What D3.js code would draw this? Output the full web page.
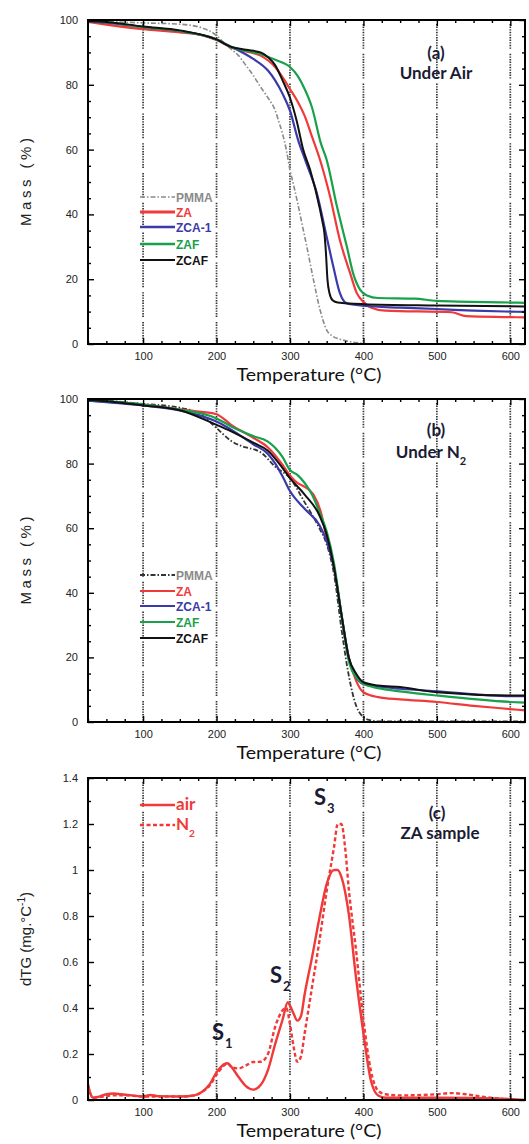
<!DOCTYPE html>
<html><head><meta charset="utf-8">
<script src="https://cdn.jsdelivr.net/npm/d3@7"></script>
<style>body{margin:0;background:#fff}svg{display:block}</style>
</head><body><svg id="chart" width="529" height="1144"></svg>
<script>
// ---------- data ----------
const xTicks = [100, 200, 300, 400, 500, 600];
const massTicks = [0, 20, 40, 60, 80, 100];
const dtgTicks = [0, 0.2, 0.4, 0.6, 0.8, 1, 1.2, 1.4];
const dtgTickLabels = ["0", "0.2", "0.4", "0.6", "0.8", "1", "1.2", "1.4"];
const seriesNames = ["PMMA", "ZA", "ZCA-1", "ZAF", "ZCAF"];

// (a) under air : [temperature, mass %]
const air_PMMA = [[25,100],[50,99.6],[100,99.1],[150,98.7],[180,97.6],[200,95.2],[210,93],[220,91],[230,89],[240,86],[250,82.9],[260,79.3],[270,76],[280,72],[285,68.5],[290,64.8],[295,60],[300,53.7],[305,49],[310,44],[316,37.5],[323,30],[332,19.8],[341,10.5],[350,4.3],[358,2.4],[368,1.5],[382,0.7],[395,0.3],[410,0]];
const air_ZA = [[25,99.4],[50,98.6],[100,97.2],[150,96.2],[180,95.3],[200,93.8],[220,91.5],[240,90.3],[260,89],[280,85.4],[290,82.3],[300,78.7],[310,75],[320,70.4],[330,64],[341,56.8],[354.6,45.5],[368,32],[382,21.8],[391,15.7],[400,13],[410,11.3],[430,10.3],[520,9.8],[540,8.6],[600,8.3],[620,8.2]];
const air_ZCA1 = [[25,99.6],[50,99.2],[100,97.8],[150,96.6],[200,94],[220,91.7],[230,90.6],[250,88],[270,84.4],[280,81.3],[290,77.2],[300,72],[311,63],[320.7,56.8],[336.6,46.5],[350,33],[359,23.9],[368,15.7],[377,12.6],[400,11.8],[450,11.2],[500,10.8],[550,10.3],[600,10],[620,9.9]];
const air_ZAF = [[25,99.7],[50,99.3],[100,97.8],[150,96.6],[200,94],[220,91.7],[240,90.5],[260,89.5],[280,87.7],[300,85.5],[310,82.9],[320,78.7],[330,73],[342,62],[350,56.8],[364,42.4],[377.5,30],[386,21.8],[395.6,16.7],[405,15],[420,14.2],[470,14],[500,13.3],[600,12.8],[620,12.7]];
const air_ZCAF = [[25,99.7],[50,99.4],[100,98],[150,96.8],[200,94],[220,91.7],[240,90.8],[260,90],[270,88.5],[280,86],[290,81.3],[300,76],[309,69],[318,60],[327.5,53.7],[341,41.4],[344,38],[347,34],[349,28],[351,20],[354,15.5],[358,13.5],[365,12.8],[400,12.3],[500,11.9],[620,11.6]];

// (b) under N2 : [temperature, mass %]
const n2_PMMA = [[25,100],[50,99.5],[100,98.5],[150,97.3],[180,95],[200,91],[220,87],[240,85],[250,84.5],[260,83.5],[280,79],[300,75.5],[320,68],[340,60],[350,55],[360,45.7],[370,29],[378,17],[388,6.5],[400,1.5],[410,0.5],[420,0.2],[620,0.2]];
const n2_ZA = [[25,99.5],[50,99.2],[100,98.3],[150,96.8],[180,96],[200,95.3],[220,92],[250,88],[270,85],[290,79.6],[300,76.3],[310,74],[320,72.8],[332,70.4],[342,65],[350,57],[360,47.8],[370,33.4],[380,20],[390,12.8],[400,9.2],[420,7.7],[450,7],[500,6.2],[550,5],[600,4],[620,3.6]];
const n2_ZCA1 = [[25,99.5],[50,99],[100,98],[150,96.5],[200,93],[250,86],[270,83],[280,80],[290,76],[300,71.5],[320,66],[340,61],[350,56],[360,47.8],[370,33.4],[380,20],[390,13.9],[400,11.8],[420,11],[450,10.3],[500,9.5],[600,8],[620,8]];
const n2_ZAF = [[25,99.7],[50,99.3],[100,98.3],[150,96.7],[200,94],[220,91.5],[250,88.5],[270,86.8],[290,82],[300,78],[310,76.5],[320,74],[330,70.4],[340,65],[350,59],[360,49],[370,33.4],[380,19],[390,13.9],[400,11.8],[420,10.5],[450,9.5],[500,8.2],[600,6.2],[620,6]];
const n2_ZCAF = [[25,99.7],[50,99.3],[100,98],[150,96.5],[200,92],[220,90],[250,86.5],[270,84],[290,78.6],[300,75.5],[320,70.4],[340,64],[350,58],[360,47.8],[370,33.4],[380,20],[390,15],[400,12.3],[420,11.3],[450,10.8],[500,9.2],[600,8.2],[620,8.2]];

// (c) ZA sample dTG : [temperature, mg/°C]
const dtg_air = [[25,0.07],[28,0.03],[32,0.01],[40,0.015],[50,0.025],[60,0.028],[70,0.025],[85,0.02],[100,0.015],[110,0.022],[120,0.017],[150,0.015],[170,0.02],[180,0.035],[190,0.065],[200,0.12],[210,0.155],[215,0.16],[220,0.145],[230,0.1],[240,0.06],[250,0.045],[260,0.065],[270,0.13],[280,0.245],[290,0.35],[297,0.425],[300,0.41],[305,0.375],[310,0.345],[315,0.365],[320,0.46],[330,0.62],[340,0.79],[350,0.94],[360,1.0],[365,1.0],[370,0.97],[380,0.81],[390,0.53],[400,0.29],[410,0.087],[420,0.02],[430,0.01],[500,0.01],[600,0.005],[620,0]];
const dtg_N2 = [[25,0.06],[28,0.03],[32,0.01],[40,0.012],[60,0.02],[80,0.02],[100,0.015],[120,0.015],[150,0.015],[170,0.02],[180,0.035],[190,0.06],[200,0.11],[210,0.15],[215,0.16],[220,0.145],[230,0.137],[240,0.15],[250,0.165],[260,0.166],[270,0.2],[280,0.32],[290,0.39],[295,0.4],[300,0.33],[305,0.23],[310,0.166],[315,0.19],[320,0.29],[330,0.49],[340,0.69],[350,0.91],[360,1.1],[365,1.2],[370,1.2],[375,1.1],[380,0.92],[390,0.65],[400,0.35],[410,0.13],[420,0.04],[430,0.025],[450,0.02],[500,0.025],[520,0.03],[540,0.025],[560,0.015],[590,0.005]];

// ---------- drawing ----------
const svg = d3.select("#chart");
const X0 = 88, X1 = 525;
const x = d3.scaleLinear().domain([25, 620]).range([X0, X1]);
const RED = "#f03a3a", BLUE = "#3a3aa8", GREEN = "#18a04a", BLACK = "#111", GRAY = "#8a8a8a";
const tickFont = "'Liberation Sans', Arial, sans-serif";
const annFont = "Lato, 'Open Sans', sans-serif";
const gridDash = d3.range(9).map(() => "1.4,1.2").join(",") + ",1.4,5";

function panel(cfg) {
  const y = d3.scaleLinear().domain(cfg.yDomain).range([cfg.bottom, cfg.top]);
  const g = svg.append("g");
  const clipId = "clip" + cfg.id;
  svg.append("clipPath").attr("id", clipId).append("rect")
    .attr("x", X0).attr("y", cfg.top).attr("width", X1 - X0).attr("height", cfg.bottom - cfg.top);

  // grid
  g.selectAll(".grid").data(xTicks).join("line")
    .attr("x1", d => x(d)).attr("x2", d => x(d))
    .attr("y1", cfg.top + 4).attr("y2", cfg.bottom)
    .attr("stroke", "#333").attr("stroke-width", 1.7).attr("stroke-dasharray", gridDash);

  // curves
  const line = d3.line().x(d => x(d[0])).y(d => y(d[1])).curve(d3.curveMonotoneX);
  const cg = g.append("g").attr("clip-path", `url(#${clipId})`);
  cfg.series.forEach(s => {
    cg.append("path").datum(s.data).attr("d", line)
      .attr("fill", "none").attr("stroke", s.color).attr("stroke-width", s.width || 2)
      .attr("stroke-dasharray", s.dash || null).attr("stroke-linejoin", "round");
  });

  // axes
  const styleAxis = sel => { sel.select(".domain").remove(); sel.selectAll("line").attr("stroke", "#000").attr("stroke-width", 1.4); };
  const minorX = d3.range(25, 621, 25).filter(v => !xTicks.includes(v));
  const minorY = d3.range(cfg.yDomain[0], cfg.yDomain[1] + 1e-9, cfg.yMinor).map(v => +v.toFixed(3)).filter(v => !cfg.yTicks.some(t => Math.abs(t - v) < 1e-6));

  g.append("g").attr("transform", `translate(0,${cfg.bottom})`)
    .call(d3.axisBottom(x).tickValues(xTicks).tickSizeInner(-6).tickSizeOuter(0).tickPadding(8))
    .call(styleAxis)
    .call(s => s.selectAll("text").attr("font-family", tickFont).attr("font-size", 11).attr("fill", "#222"));
  g.append("g").attr("transform", `translate(0,${cfg.bottom})`)
    .call(d3.axisBottom(x).tickValues(minorX).tickSizeInner(-3).tickSizeOuter(0).tickFormat(""))
    .call(styleAxis);
  g.append("g").attr("transform", `translate(0,${cfg.top})`)
    .call(d3.axisTop(x).tickValues(xTicks).tickSizeInner(-6).tickSizeOuter(0).tickFormat(""))
    .call(styleAxis);
  g.append("g").attr("transform", `translate(0,${cfg.top})`)
    .call(d3.axisTop(x).tickValues(minorX).tickSizeInner(-3).tickSizeOuter(0).tickFormat(""))
    .call(styleAxis);
  g.append("g").attr("transform", `translate(${X0},0)`)
    .call(d3.axisLeft(y).tickValues(cfg.yTicks).tickSizeInner(-6).tickSizeOuter(0).tickPadding(10)
      .tickFormat((d, i) => cfg.yLabels[i]))
    .call(styleAxis)
    .call(s => s.selectAll("text").attr("font-family", tickFont).attr("font-size", 11).attr("fill", "#222"));
  g.append("g").attr("transform", `translate(${X0},0)`)
    .call(d3.axisLeft(y).tickValues(minorY).tickSizeInner(-3).tickSizeOuter(0).tickFormat(""))
    .call(styleAxis);
  g.append("g").attr("transform", `translate(${X1},0)`)
    .call(d3.axisRight(y).tickValues(cfg.yTicks).tickSizeInner(-6).tickSizeOuter(0).tickFormat(""))
    .call(styleAxis);
  g.append("g").attr("transform", `translate(${X1},0)`)
    .call(d3.axisRight(y).tickValues(minorY).tickSizeInner(-3).tickSizeOuter(0).tickFormat(""))
    .call(styleAxis);

  // frame
  g.append("rect").attr("x", X0).attr("y", cfg.top).attr("width", X1 - X0).attr("height", cfg.bottom - cfg.top)
    .attr("fill", "none").attr("stroke", "#000").attr("stroke-width", 2);

  // x title
  g.append("text").attr("x", 309).attr("y", cfg.bottom + 37).attr("text-anchor", "middle")
    .attr("font-family", annFont).attr("font-size", 17).attr("fill", "#111")
    .attr("textLength", 145).attr("lengthAdjust", "spacingAndGlyphs")
    .text("Temperature (°C)");

  // y title
  const yt = g.append("text").attr("transform", `translate(31,${(cfg.top + cfg.bottom) / 2}) rotate(-90)`)
    .attr("text-anchor", "middle").attr("font-family", tickFont).attr("font-size", 15).attr("fill", "#222");
  cfg.yTitle(yt);

  // legend
  if (cfg.legend) {
    cfg.legend.forEach(l => {
      g.append("line").attr("x1", 140).attr("x2", 175).attr("y1", l.y).attr("y2", l.y)
        .attr("stroke", l.color).attr("stroke-width", l.width || 2).attr("stroke-dasharray", l.dash || null);
      const t = g.append("text").attr("x", 176).attr("y", l.y + 4.5)
        .attr("font-family", l.font || tickFont).attr("font-weight", "bold").attr("font-size", l.size || 12)
        .attr("fill", l.textColor || l.color);
      t.text(l.label);
      if (l.sub) t.append("tspan").attr("font-size", 10).attr("dy", 7).text(l.sub);
    });
  }
  return { g, y };
}

// panel (a)
const pa = panel({
  id: "a", top: 20, bottom: 344, yDomain: [0, 100], yTicks: massTicks, yLabels: massTicks.map(String), yMinor: 5,
  series: [
    { data: air_PMMA, color: GRAY, width: 1.6, dash: "5,2,1.5,2" },
    { data: air_ZA, color: RED, width: 2.2 },
    { data: air_ZCA1, color: BLUE, width: 2.2 },
    { data: air_ZAF, color: GREEN, width: 2.2 },
    { data: air_ZCAF, color: BLACK, width: 2 }
  ],
  legend: [
    { y: 197, color: GRAY, label: seriesNames[0], dash: "5,2,1.5,2", width: 1.6 },
    { y: 212, color: RED, label: seriesNames[1], width: 3 },
    { y: 227, color: BLUE, label: seriesNames[2], width: 2.5 },
    { y: 244, color: GREEN, label: seriesNames[3], width: 2.5 },
    { y: 260, color: BLACK, label: seriesNames[4], width: 2 }
  ],
  yTitle: t => t.attr("textLength", 88).text("Mass (%)")
});
pa.g.append("text").attr("x", 436).attr("y", 59).attr("text-anchor", "middle")
  .attr("font-family", annFont).attr("font-weight", "bold").attr("font-size", 17).attr("fill", "#1b1b33").text("(a)");
pa.g.append("text").attr("x", 436).attr("y", 79).attr("text-anchor", "middle")
  .attr("font-family", annFont).attr("font-weight", "bold").attr("font-size", 17).attr("fill", "#1b1b33").text("Under Air");

// panel (b)
const pb = panel({
  id: "b", top: 399, bottom: 722, yDomain: [0, 100], yTicks: massTicks, yLabels: massTicks.map(String), yMinor: 5,
  series: [
    { data: n2_PMMA, color: "#333", width: 1.8, dash: "5,2,1.5,2" },
    { data: n2_ZA, color: RED, width: 2.2 },
    { data: n2_ZCA1, color: BLUE, width: 2.2 },
    { data: n2_ZAF, color: GREEN, width: 2.2 },
    { data: n2_ZCAF, color: BLACK, width: 2 }
  ],
  legend: [
    { y: 575, color: "#333", textColor: GRAY, label: seriesNames[0], dash: "5,2,1.5,2", width: 2 },
    { y: 591, color: RED, label: seriesNames[1], width: 2.2 },
    { y: 606, color: BLUE, label: seriesNames[2], width: 2.2 },
    { y: 622, color: GREEN, label: seriesNames[3], width: 2.2 },
    { y: 638, color: BLACK, label: seriesNames[4], width: 2 }
  ],
  yTitle: t => t.attr("textLength", 88).text("Mass (%)")
});
pb.g.append("text").attr("x", 436).attr("y", 436).attr("text-anchor", "middle")
  .attr("font-family", annFont).attr("font-weight", "bold").attr("font-size", 17).attr("fill", "#1b1b33").text("(b)");
const ub = pb.g.append("text").attr("x", 431).attr("y", 458).attr("text-anchor", "middle")
  .attr("font-family", annFont).attr("font-weight", "bold").attr("font-size", 17).attr("fill", "#1b1b33").text("Under N");
ub.append("tspan").attr("font-size", 11).attr("dy", 7).text("2");

// panel (c)
const pc = panel({
  id: "c", top: 778, bottom: 1100, yDomain: [0, 1.4], yTicks: dtgTicks, yLabels: dtgTickLabels, yMinor: 0.1,
  series: [
    { data: dtg_N2, color: RED, width: 2.4, dash: "4,2.5" },
    { data: dtg_air, color: RED, width: 2.4 }
  ],
  legend: [
    { y: 805, color: RED, label: "air", width: 2.4, font: annFont, size: 17 },
    { y: 825, color: RED, label: "N", sub: "2", width: 2.4, dash: "4,2.5", font: annFont, size: 17 }
  ],
  yTitle: t => {
    t.attr("font-size", 15).text("dTG (mg.°C");
    t.append("tspan").attr("font-size", 10).attr("dy", -6).text("-1");
    t.append("tspan").attr("dy", 6).text(")");
  }
});
pc.g.append("text").attr("x", 437).attr("y", 819).attr("text-anchor", "middle")
  .attr("font-family", annFont).attr("font-weight", "bold").attr("font-size", 17).attr("fill", "#1b1b33").text("(c)");
pc.g.append("text").attr("x", 440).attr("y", 839).attr("text-anchor", "middle")
  .attr("font-family", annFont).attr("font-weight", "bold").attr("font-size", 17).attr("fill", "#1b1b33").text("ZA sample");

// peak labels
const peaks = [["S", "1", 212, 1040], ["S", "2", 270, 983], ["S", "3", 314, 805]];
peaks.forEach(p => {
  const t = pc.g.append("text").attr("x", p[2]).attr("y", p[3])
    .attr("font-family", annFont).attr("font-weight", "bold").attr("font-size", 22).attr("fill", "#1b1b33").text(p[0]);
  t.append("tspan").attr("font-size", 13).attr("dy", 8).attr("dx", 1).text(p[1]);
});
</script>
</body></html>
